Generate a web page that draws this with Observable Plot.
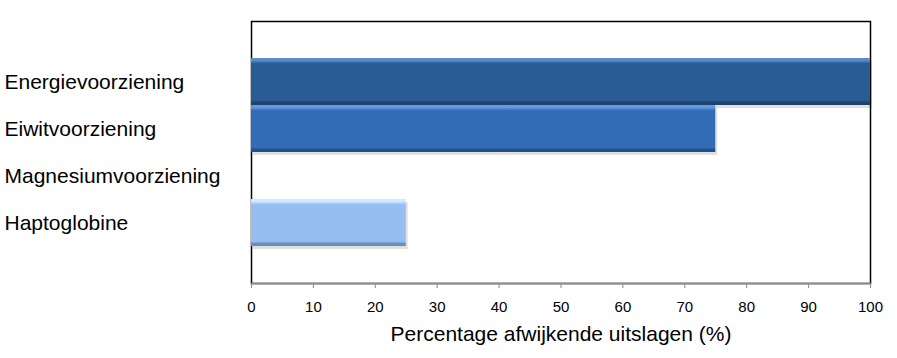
<!DOCTYPE html>
<html>
<head>
<meta charset="utf-8">
<script src="https://cdn.jsdelivr.net/npm/d3@7"></script>
<script src="https://cdn.jsdelivr.net/npm/@observablehq/plot@0.6"></script>
<style>
  html, body { margin: 0; padding: 0; background: white; }
</style>
</head>
<body>
<div id="chart"></div>
<script>
const categories = ["Energievoorziening", "Eiwitvoorziening", "Magnesiumvoorziening", "Haptoglobine"];
const values = [100, 75, 0, 25];
const xTicks = [0, 10, 20, 30, 40, 50, 60, 70, 80, 90, 100];
const axisTitle = "Percentage afwijkende uitslagen (%)";

// styles (not data)
const gradients = [
  {id: "g0", top: "#5a8ccb", mid: "#295c94", bot: "#1e426f"},
  {id: "g1", top: "#639bde", mid: "#326cb7", bot: "#24508a"},
  {id: "g2", top: "#7aaee8", mid: "#3a77c2", bot: "#28568f"},
  {id: "g3", top: "#cfeaff", mid: "#96bef0", bot: "#6b8dba"}
];

const rows = categories.map((c, i) => ({cat: c, value: values[i], idx: i})).filter(d => d.value > 0);

const barMarks = rows.map(d => Plot.barX([d], {
  x1: 0, x2: "value", y: "cat",
  fill: `url(#${gradients[d.idx].id})`
}));

const chart = Plot.plot({
  width: 897,
  height: 358,
  marginLeft: 251,
  marginRight: 27,
  marginTop: 21,
  marginBottom: 75,
  style: {fontFamily: "'Liberation Sans', Arial, sans-serif", fontSize: "14px", color: "black", background: "white", overflow: "visible"},
  x: {domain: [0, 100]},
  y: {domain: categories, paddingInner: 0, paddingOuter: 0.743},
  marks: [
    Plot.frame({stroke: "black", strokeWidth: 1.5}),
    Plot.frame({anchor: "bottom", stroke: "#8a8a8a", strokeWidth: 1.5}),
    Plot.barX(rows, {x1: 0, x2: "value", y: "cat", dx: 2, dy: 3, fill: "#000", fillOpacity: 0.12}),
    ...barMarks,
    Plot.axisX({ticks: xTicks, tickSize: 5, tickPadding: 13, stroke: "#8a8a8a", fill: "black", fontSize: 15, label: null}),
    Plot.axisY({tickSize: 0, tickPadding: 0, textAnchor: "start", dx: -247, fontSize: 21, label: null}),
    Plot.text([axisTitle], {frameAnchor: "bottom", dy: 57, fontSize: 21, fill: "black"})
  ]
});

// gradient definitions for the beveled bar look
const ns = "http://www.w3.org/2000/svg";
const svg = chart.tagName.toLowerCase() === "svg" ? chart : chart.querySelector("svg");
const defs = document.createElementNS(ns, "defs");
for (const g of gradients) {
  const lg = document.createElementNS(ns, "linearGradient");
  lg.setAttribute("id", g.id);
  lg.setAttribute("x1", "0"); lg.setAttribute("y1", "0");
  lg.setAttribute("x2", "0"); lg.setAttribute("y2", "1");
  const stops = [[0, g.top], [0.05, g.top], [0.12, g.mid], [0.9, g.mid], [0.95, g.bot], [1, g.bot]];
  for (const [o, c] of stops) {
    const s = document.createElementNS(ns, "stop");
    s.setAttribute("offset", o);
    s.setAttribute("stop-color", c);
    lg.appendChild(s);
  }
  defs.appendChild(lg);
}
svg.insertBefore(defs, svg.firstChild);

document.getElementById("chart").appendChild(chart);
</script>
</body>
</html>
